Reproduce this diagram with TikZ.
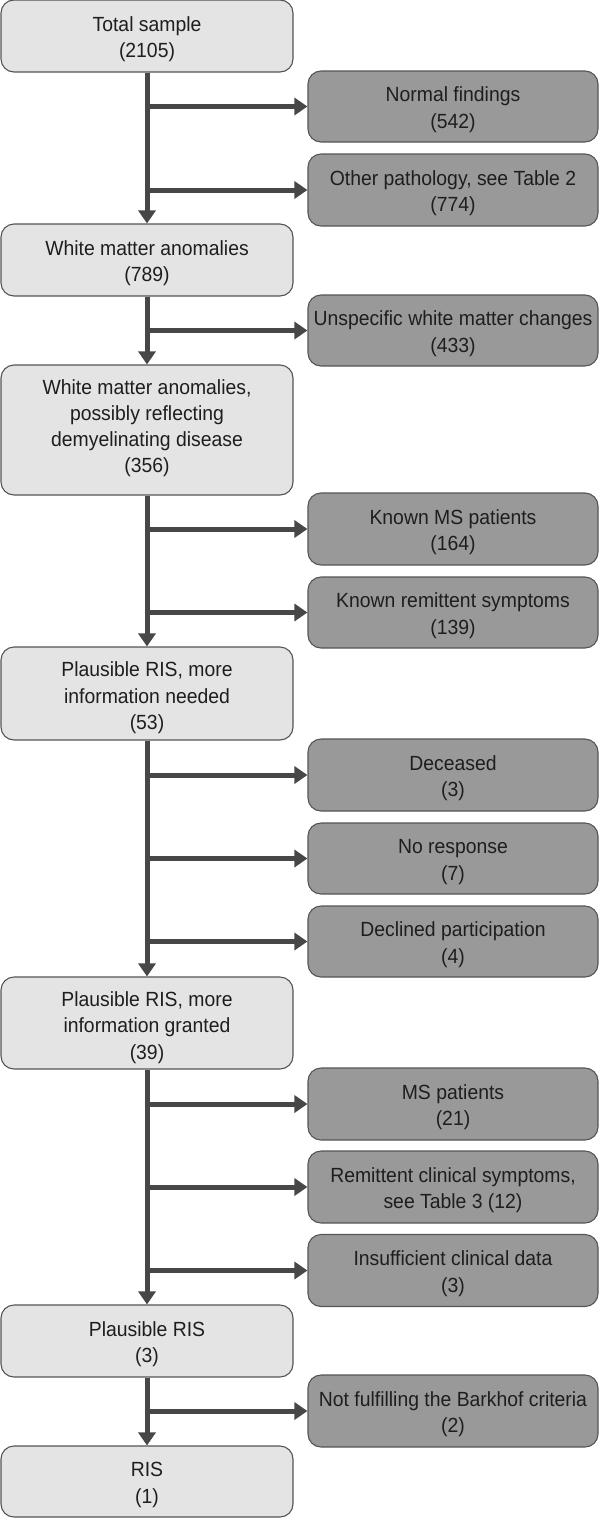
\documentclass[tikz,border=0pt]{standalone}
\usepackage{fontspec}
\setmainfont{Liberation Sans}[FakeStretch=0.945]
\usetikzlibrary{arrows.meta}
\definecolor{lightbox}{HTML}{E4E4E4}
\definecolor{darkbox}{HTML}{999999}
\definecolor{boxline}{HTML}{555555}
\definecolor{arrowcol}{HTML}{474747}
\definecolor{txt}{HTML}{1E1E1E}
\begin{document}
\begin{tikzpicture}[x=1pt,y=-1pt,
  basebox/.style={rectangle, rounded corners=13pt, draw=boxline, line width=1.1pt,
    align=center, inner sep=0pt, text=txt, text depth=0pt, text height=43.5pt,
    font=\fontsize{20.5}{26.5}\selectfont},
  lines3/.style={text height=72pt},
  lines4/.style={text height=84pt, font=\fontsize{20.5}{25.7}\selectfont},
  mainbox/.style={basebox, fill=lightbox, minimum width=292pt},
  sidebox/.style={basebox, fill=darkbox, minimum width=290pt},
  arr/.style={draw=arrowcol, line width=5pt, -{Triangle[length=13pt,width=17pt]}}
]
\useasboundingbox (0,0) rectangle (600,1518);

% main column
\node[mainbox, minimum height=72pt] (m1) at (147,36) {Total sample\\(2105)};
\node[mainbox, minimum height=72pt] (m2) at (147,260) {White matter anomalies\\(789)};
\node[mainbox, lines4, minimum height=130pt] (m3) at (147,430) {White matter anomalies,\\possibly reflecting\\demyelinating disease\\(356)};
\node[mainbox, lines3, minimum height=93pt] (m4) at (147,693.5) {Plausible RIS, more\\information needed\\(53)};
\node[mainbox, lines3, minimum height=92pt] (m5) at (147,1023) {Plausible RIS, more\\information granted\\(39)};
\node[mainbox, minimum height=72pt] (m6) at (147,1341) {Plausible RIS\\(3)};
\node[mainbox, minimum height=71pt] (m7) at (147,1481.5) {RIS\\(1)};

% side column
\node[sidebox, minimum height=71pt] (s1) at (453,106.5) {Normal findings\\(542)};
\node[sidebox, minimum height=72pt] (s2) at (453,190) {Other pathology, see Table 2\\(774)};
\node[sidebox, minimum height=71pt] (s3) at (453,330.5) {Unspecific white matter changes\\(433)};
\node[sidebox, minimum height=72pt] (s4) at (453,529) {Known MS patients\\(164)};
\node[sidebox, minimum height=71pt] (s5) at (453,612.5) {Known remittent symptoms\\(139)};
\node[sidebox, minimum height=72pt] (s6) at (453,775) {Deceased\\(3)};
\node[sidebox, minimum height=71pt] (s7) at (453,858.5) {No response\\(7)};
\node[sidebox, minimum height=71pt] (s8) at (453,941.5) {Declined participation\\(4)};
\node[sidebox, minimum height=72pt] (s9) at (453,1104) {MS patients\\(21)};
\node[sidebox, minimum height=72pt] (s10) at (453,1187) {Remittent clinical symptoms,\\see Table 3 (12)};
\node[sidebox, minimum height=72pt] (s11) at (453,1270.5) {Insufficient clinical data\\(3)};
\node[sidebox, minimum height=72pt] (s12) at (453,1411) {Not fulfilling the Barkhof criteria\\(2)};

% vertical connectors
\draw[arr] (m1.south) -- (m2.north);
\draw[arr] (m2.south) -- (m3.north);
\draw[arr] (m3.south) -- (m4.north);
\draw[arr] (m4.south) -- (m5.north);
\draw[arr] (m5.south) -- (m6.north);
\draw[arr] (m6.south) -- (m7.north);

% horizontal connectors
\foreach \m/\s in {m1/s1, m1/s2, m2/s3, m3/s4, m3/s5, m4/s6, m4/s7, m4/s8, m5/s9, m5/s10, m5/s11, m6/s12}
  \draw[arr] ([xshift=-2.5pt]\m.south |- \s.west) -- (\s.west);
\end{tikzpicture}
\end{document}
